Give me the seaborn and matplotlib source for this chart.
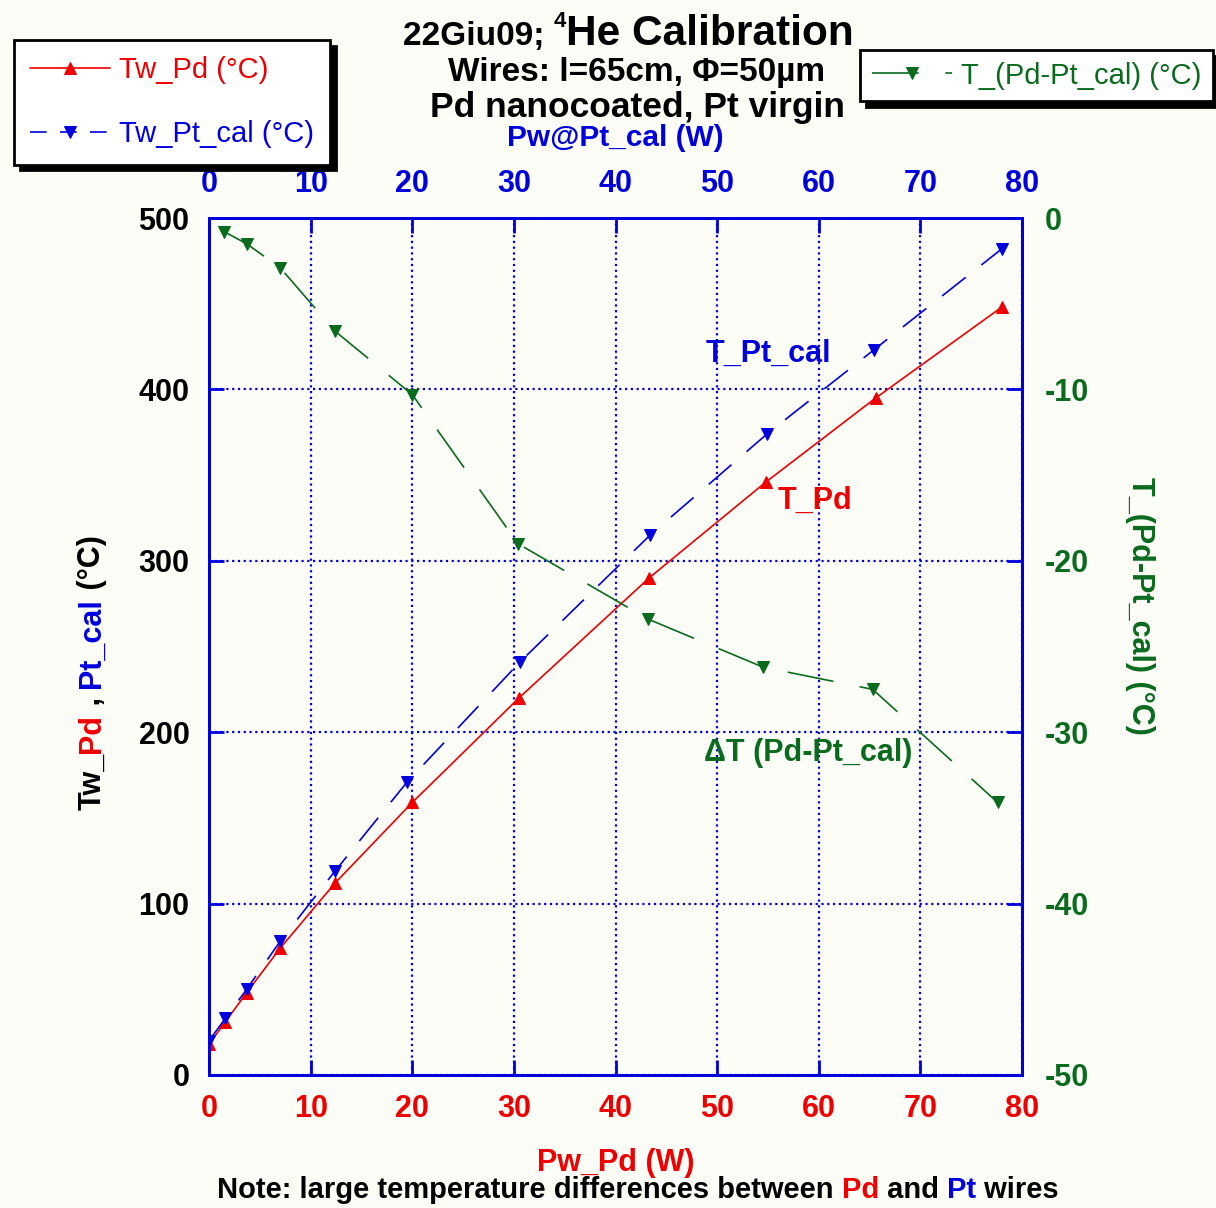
import matplotlib
matplotlib.use("Agg")
import matplotlib.pyplot as plt
import seaborn as sns

# Pd wire: power (W) vs temperature (C)
pd_power = [0, 1.6, 3.7, 7.0, 12.4, 20.0, 30.5, 43.3, 54.8, 65.6, 78.0]
pd_temp = [18, 31, 48, 74, 112, 159, 220, 290, 346, 395, 448]

# Pt calibration wire (top axis)
pt_power = [0, 1.6, 3.7, 7.0, 12.4, 19.5, 30.6, 43.4, 54.9, 65.4, 78.0]
pt_temp = [20, 33, 50, 78, 119, 171, 241, 315, 374, 423, 482]

# temperature difference Pd - Pt_cal (right axis)
dt_power = [1.5, 3.7, 7.0, 12.4, 20.0, 30.4, 43.2, 54.5, 65.3, 77.6]
dt_temp = [-0.8, -1.5, -2.9, -6.6, -10.3, -19.0, -23.4, -26.2, -27.5, -34.1]

x_ticks = [0, 10, 20, 30, 40, 50, 60, 70, 80]
y_ticks = [0, 100, 200, 300, 400, 500]
y2_ticks = [0, -10, -20, -30, -40, -50]

RED = '#ee0000'
BLUE = '#0000dd'
GREEN = '#0a6a1e'
BG = '#fdfdf8'

sns.set_style("white")
plt.rcParams['font.family'] = ['Liberation Sans', 'DejaVu Sans']
plt.rcParams['text.color'] = 'black'
plt.rcParams['axes.labelcolor'] = 'black'
NARROW = ['Liberation Sans Narrow', 'Liberation Sans', 'DejaVu Sans']

fig = plt.figure(figsize=(12.16, 12.08), dpi=100, facecolor=BG)
ax = fig.add_axes([0.1719, 0.1101, 0.6686, 0.7094])
ax.set_facecolor(BG)
ax_top = ax.twiny()
ax_r = ax.twinx()

# lines
sns.lineplot(x=pd_power, y=pd_temp, ax=ax, color=RED, lw=1.2, marker='^',
             markersize=8, markeredgecolor=RED, legend=False)
line_pd = ax.lines[-1]
sns.lineplot(x=pt_power, y=pt_temp, ax=ax_top, color=BLUE, lw=1.2, marker='v',
             markersize=8, markeredgecolor=BLUE, linestyle=(0, (18, 12)), legend=False)
line_pt = ax_top.lines[-1]
sns.lineplot(x=dt_power, y=dt_temp, ax=ax_r, color=GREEN, lw=1.2, marker='v',
             markersize=8, markeredgecolor=GREEN, linestyle=(0, (28, 16)), legend=False)
line_dt = ax_r.lines[-1]

ax.set_xlim(0, 80)
ax_top.set_xlim(0, 80)
ax.set_ylim(0, 500)
ax_r.set_ylim(-50, 0)

tick_font = dict(fontsize=22, fontweight='bold', fontfamily=NARROW)
ax.set_xticks(x_ticks, labels=[str(v) for v in x_ticks], color=RED, **tick_font)
ax_top.set_xticks(x_ticks, labels=[str(v) for v in x_ticks], color=BLUE, **tick_font)
ax.set_yticks(y_ticks, labels=[str(v) for v in y_ticks], color='black', **tick_font)
ax_r.set_yticks(y2_ticks, labels=[str(v) for v in y2_ticks], color=GREEN, **tick_font)

ax.tick_params(axis='both', direction='in', length=11, width=2, color=BLUE, pad=14,
               top=False, right=False)
ax_top.tick_params(axis='x', direction='in', length=11, width=2, color=BLUE, pad=14)
ax_r.tick_params(axis='y', direction='in', length=11, width=2, color=BLUE, pad=16)

ax.grid(True, color=BLUE, linestyle=(0, (1, 1.6)), lw=1.6)
for a in (ax, ax_top, ax_r):
    for sp in a.spines.values():
        sp.set_color(BLUE)
        sp.set_linewidth(2)

ax.set_xlabel('Pw_Pd (W)', color=RED, labelpad=17, fontsize=22, fontweight='bold', fontfamily=NARROW)
ax_top.set_xlabel('Pw@Pt_cal (W)', color=BLUE, labelpad=16, fontsize=21.5, fontweight='bold', fontfamily=NARROW)
ax.set_ylabel('')
ax_r.set_ylabel('')
ax_top.set_ylabel('')

# in-plot labels
lab_font = dict(fontsize=22, fontweight='bold', fontfamily=NARROW, ha='center', va='center')
ax.text(55.0, 421, 'T_Pt_cal', color=BLUE, **lab_font)
ax.text(59.6, 335, 'T_Pd', color=RED, **lab_font)
ax.text(59.0, 188, 'ΔT (Pd-Pt_cal)', color=GREEN, **lab_font)

# right axis label
ax_r.text(1.145, 0.547, 'T_(Pd-Pt_cal) (°C)', transform=ax_r.transAxes, rotation=-90,
          ha='center', va='center', color=GREEN, fontsize=22, fontweight='bold', fontfamily=NARROW)

# left axis label, multi-coloured, stacked bottom to top
ylab_parts = [('Tw_', 'black'), ('Pd', RED), (' , ', 'black'), ('Pt_cal', BLUE), (' (°C)', 'black')]
base_x = 100 / 1216
prev = ax.annotate(ylab_parts[0][0], xy=(base_x, 1 - 810 / 1208), xycoords='figure fraction',
                   rotation=90, rotation_mode='anchor', ha='left', va='baseline',
                   color=ylab_parts[0][1], fontsize=22, fontweight='bold', fontfamily=NARROW)
for s, c in ylab_parts[1:]:
    prev = ax.annotate(s, xy=(base_x, 1), xycoords=('figure fraction', prev),
                       rotation=90, rotation_mode='anchor', ha='left', va='baseline',
                       color=c, fontsize=22, fontweight='bold', fontfamily=NARROW)

# title block
t1 = ax.annotate('22Giu09; ', xy=(403 / 1216, 1 - 45 / 1208), xycoords='figure fraction',
                 ha='left', va='baseline', fontsize=24, fontweight='bold')
t2 = ax.annotate('4', xy=(1, 1 - 27 / 1208), xycoords=(t1, 'figure fraction'),
                 ha='left', va='baseline', fontsize=16, fontweight='bold')
ax.annotate('He Calibration', xy=(1, 1 - 45 / 1208), xycoords=(t2, 'figure fraction'),
            ha='left', va='baseline', fontsize=30.5, fontweight='bold')
fig.text(637 / 1216, 1 - 72 / 1208, 'Wires: l=65cm, Φ=50µm', ha='center', va='center',
         fontsize=24, fontweight='bold')
fig.text(638 / 1216, 1 - 107 / 1208, 'Pd nanocoated, Pt virgin', ha='center', va='center',
         fontsize=25.5, fontweight='bold')

# bottom note, multi-coloured
note_parts = [('Note: large temperature differences between ', 'black'), ('Pd', RED),
              (' and ', 'black'), ('Pt', BLUE), (' wires', 'black')]
note_y = 1 - 1198 / 1208
prev = ax.annotate(note_parts[0][0], xy=(217 / 1216, note_y), xycoords='figure fraction',
                   ha='left', va='baseline', color=note_parts[0][1],
                   fontsize=21, fontweight='bold', fontfamily=NARROW)
for s, c in note_parts[1:]:
    prev = ax.annotate(s, xy=(1, note_y), xycoords=(prev, 'figure fraction'),
                       ha='left', va='baseline', color=c,
                       fontsize=21, fontweight='bold', fontfamily=NARROW)

# legends
shadow = {'color': 'black', 'alpha': 1, 'ox': 4, 'oy': -4}
leg1 = fig.legend(handles=[line_pd, line_pt], labels=['Tw_Pd (°C)', 'Tw_Pt_cal (°C)'],
                  loc='upper left', bbox_to_anchor=(14 / 1216, 1 - 40 / 1208),
                  frameon=True, fancybox=False, shadow=shadow, edgecolor='black',
                  facecolor='white', framealpha=1, borderpad=0.55, labelspacing=1.25,
                  handlelength=2.75, handletextpad=0.3, borderaxespad=0,
                  prop={'family': 'Liberation Sans', 'size': 21})
leg1.get_frame().set_linewidth(2)
for txt, c in zip(leg1.get_texts(), [RED, BLUE]):
    txt.set_color(c)
leg1.legend_handles[1].set_linestyle((0, (10, 8)))

leg2 = fig.legend(handles=[line_dt], labels=['T_(Pd-Pt_cal) (°C)'],
                  loc='upper left', bbox_to_anchor=(860 / 1216, 1 - 50 / 1208),
                  frameon=True, fancybox=False, shadow=shadow, edgecolor='black',
                  facecolor='white', framealpha=1, borderpad=0.4,
                  handlelength=2.75, handletextpad=0.3, borderaxespad=0,
                  prop={'family': 'Liberation Sans', 'size': 21})
leg2.get_frame().set_linewidth(2)
leg2.get_texts()[0].set_color(GREEN)

fig.savefig('out.png', dpi=100, facecolor=BG)
